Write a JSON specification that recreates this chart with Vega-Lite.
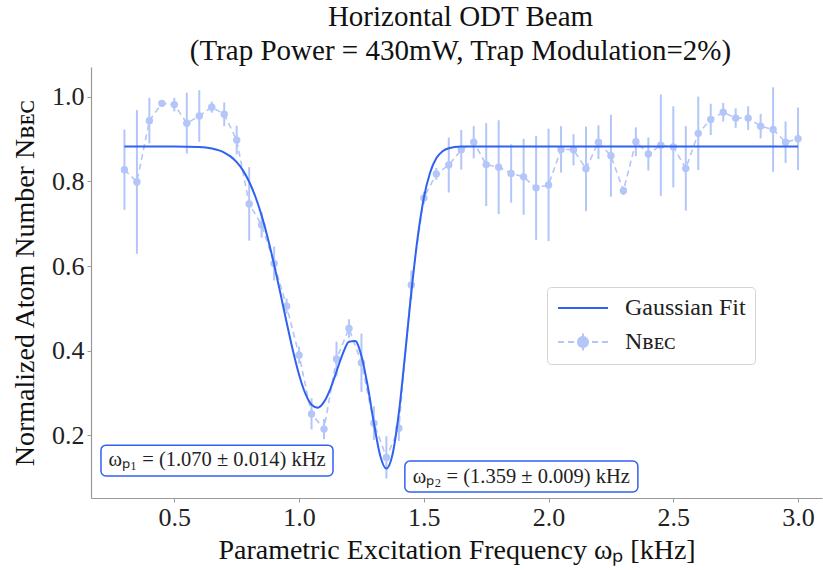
{
  "$schema": "https://vega.github.io/schema/vega-lite/v6.json",
  "width": 731,
  "height": 431,
  "autosize": "none",
  "padding": {"left": 91, "top": 67, "right": 1, "bottom": 72},
  "background": "white",
  "title": {
    "text": ["Horizontal ODT Beam", "(Trap Power = 430mW, Trap Modulation=2%)"],
    "font": "Liberation Serif",
    "fontSize": 29,
    "fontWeight": "normal",
    "color": "#111",
    "lineHeight": 34,
    "offset": 1,
    "dx": 4
  },
  "config": {
    "view": {"stroke": null},
    "axis": {
      "grid": false,
      "domainColor": "#999",
      "domainWidth": 1.2,
      "tickColor": "#999",
      "tickSize": 4,
      "tickWidth": 1,
      "labelFont": "Liberation Serif",
      "labelFontSize": 26,
      "labelColor": "#222",
      "titleFont": "Liberation Serif",
      "titleFontSize": 28,
      "titleFontWeight": "normal",
      "titleColor": "#111"
    },
    "axisX": {"labelPadding": 2, "titlePadding": 6},
    "axisY": {"labelPadding": 3, "titlePadding": 12}
  },
  "datasets": {
    "points": [
      {"x": 0.30, "y": 0.828, "err": 0.095},
      {"x": 0.35, "y": 0.799, "err": 0.170},
      {"x": 0.40, "y": 0.944, "err": 0.054},
      {"x": 0.45, "y": 0.985, "err": 0.008},
      {"x": 0.50, "y": 0.982, "err": 0.016},
      {"x": 0.55, "y": 0.938, "err": 0.072},
      {"x": 0.60, "y": 0.955, "err": 0.061},
      {"x": 0.65, "y": 0.976, "err": 0.013},
      {"x": 0.70, "y": 0.959, "err": 0.028},
      {"x": 0.75, "y": 0.898, "err": 0.034},
      {"x": 0.80, "y": 0.747, "err": 0.087},
      {"x": 0.85, "y": 0.697, "err": 0.030},
      {"x": 0.90, "y": 0.606, "err": 0.040},
      {"x": 0.95, "y": 0.505, "err": 0.018},
      {"x": 1.00, "y": 0.389, "err": 0.020},
      {"x": 1.05, "y": 0.250, "err": 0.037},
      {"x": 1.10, "y": 0.214, "err": 0.024},
      {"x": 1.15, "y": 0.380, "err": 0.041},
      {"x": 1.20, "y": 0.452, "err": 0.022},
      {"x": 1.25, "y": 0.371, "err": 0.069},
      {"x": 1.30, "y": 0.228, "err": 0.040},
      {"x": 1.35, "y": 0.147, "err": 0.050},
      {"x": 1.40, "y": 0.216, "err": 0.030},
      {"x": 1.45, "y": 0.555, "err": 0.034},
      {"x": 1.50, "y": 0.761, "err": 0.015},
      {"x": 1.55, "y": 0.818, "err": 0.014},
      {"x": 1.60, "y": 0.839, "err": 0.065},
      {"x": 1.65, "y": 0.875, "err": 0.047},
      {"x": 1.70, "y": 0.893, "err": 0.038},
      {"x": 1.75, "y": 0.840, "err": 0.098},
      {"x": 1.80, "y": 0.834, "err": 0.111},
      {"x": 1.85, "y": 0.819, "err": 0.069},
      {"x": 1.90, "y": 0.811, "err": 0.090},
      {"x": 1.95, "y": 0.785, "err": 0.123},
      {"x": 2.00, "y": 0.792, "err": 0.133},
      {"x": 2.05, "y": 0.876, "err": 0.055},
      {"x": 2.10, "y": 0.875, "err": 0.037},
      {"x": 2.15, "y": 0.830, "err": 0.100},
      {"x": 2.20, "y": 0.893, "err": 0.040},
      {"x": 2.25, "y": 0.861, "err": 0.097},
      {"x": 2.30, "y": 0.778, "err": 0.010},
      {"x": 2.35, "y": 0.894, "err": 0.034},
      {"x": 2.40, "y": 0.865, "err": 0.039},
      {"x": 2.45, "y": 0.886, "err": 0.120},
      {"x": 2.50, "y": 0.882, "err": 0.096},
      {"x": 2.55, "y": 0.831, "err": 0.100},
      {"x": 2.60, "y": 0.914, "err": 0.087},
      {"x": 2.65, "y": 0.947, "err": 0.037},
      {"x": 2.70, "y": 0.964, "err": 0.022},
      {"x": 2.75, "y": 0.950, "err": 0.023},
      {"x": 2.80, "y": 0.950, "err": 0.028},
      {"x": 2.85, "y": 0.931, "err": 0.029},
      {"x": 2.90, "y": 0.923, "err": 0.100},
      {"x": 2.95, "y": 0.893, "err": 0.049},
      {"x": 3.00, "y": 0.901, "err": 0.074}
    ],
    "fit": [
      {"x": 0.30, "y": 0.883},
      {"x": 0.50, "y": 0.883},
      {"x": 0.60, "y": 0.8816},
      {"x": 0.65, "y": 0.878},
      {"x": 0.70, "y": 0.8686},
      {"x": 0.725, "y": 0.8594},
      {"x": 0.75, "y": 0.8458},
      {"x": 0.775, "y": 0.8263},
      {"x": 0.80, "y": 0.7994},
      {"x": 0.825, "y": 0.7639},
      {"x": 0.85, "y": 0.7192},
      {"x": 0.875, "y": 0.6653},
      {"x": 0.90, "y": 0.6033},
      {"x": 0.925, "y": 0.5359},
      {"x": 0.95, "y": 0.4667},
      {"x": 0.975, "y": 0.4005},
      {"x": 1.00, "y": 0.3427},
      {"x": 1.025, "y": 0.2984},
      {"x": 1.05, "y": 0.2717},
      {"x": 1.075, "y": 0.2647},
      {"x": 1.10, "y": 0.2783},
      {"x": 1.125, "y": 0.3088},
      {"x": 1.15, "y": 0.3502},
      {"x": 1.175, "y": 0.392},
      {"x": 1.20, "y": 0.4208},
      {"x": 1.225, "y": 0.4223},
      {"x": 1.25, "y": 0.387},
      {"x": 1.275, "y": 0.3165},
      {"x": 1.30, "y": 0.2278},
      {"x": 1.325, "y": 0.1517},
      {"x": 1.35, "y": 0.1206},
      {"x": 1.375, "y": 0.155},
      {"x": 1.40, "y": 0.2529},
      {"x": 1.425, "y": 0.3913},
      {"x": 1.45, "y": 0.538},
      {"x": 1.475, "y": 0.6658},
      {"x": 1.50, "y": 0.761},
      {"x": 1.525, "y": 0.8208},
      {"x": 1.55, "y": 0.8548},
      {"x": 1.575, "y": 0.8714},
      {"x": 1.60, "y": 0.8787},
      {"x": 1.65, "y": 0.8826},
      {"x": 1.70, "y": 0.883},
      {"x": 3.00, "y": 0.883}
    ]
  },
  "layer": [
    {
      "encoding": {
        "x": {"field": "x", "type": "quantitative",
              "scale": {"domain": [0.166, 3.096], "nice": false, "zero": false},
              "axis": {"values": [0.5, 1.0, 1.5, 2.0, 2.5, 3.0], "format": ".1f"},
              "title": "Parametric Excitation Frequency ωₚ [kHz]"},
        "y": {"field": "y", "type": "quantitative",
              "scale": {"domain": [0.0509, 1.071], "nice": false, "zero": false},
              "axis": {"values": [0.2, 0.4, 0.6, 0.8, 1.0], "format": ".1f"},
              "title": "Normalized Atom Number Nʙᴇᴄ"}
      },
      "layer": [
        {
          "data": {"name": "points"},
          "mark": {"type": "errorbar", "ticks": false, "color": "#b4c6f9", "rule": {"strokeWidth": 2}},
          "encoding": {
            "yError": {"field": "err"}
          }
        },
        {
          "data": {"name": "points"},
          "mark": {"type": "line", "strokeWidth": 1.6, "strokeDash": [6, 4], "clip": true},
          "encoding": {
            "color": {
              "datum": "Nʙᴇᴄ",
              "scale": {"domain": ["Gaussian Fit", "Nʙᴇᴄ"], "range": ["#3062f0", "#b4c6f9"]},
              "legend": {
                "title": null,
                "orient": "none",
                "legendX": 456,
                "legendY": 220,
                "padding": 9,
                "strokeColor": "#d4d4d4",
                "fillColor": "white",
                "cornerRadius": 4,
                "labelFont": "Liberation Serif",
                "labelFontSize": 24,
                "labelColor": "#222",
                "labelOffset": 45,
                "rowPadding": 9,
                "symbolSize": 400,
                "symbolStrokeWidth": 2,
                "symbolDash": [1, 0],
                "encode": {
                  "symbols": {
                    "update": {
                      "shape": {"signal": "datum.value === 'Gaussian Fit' ? 'M-1,0H4' : 'M-1,0H-0.4M0,0H0.6M1,0H2M2.4,0H3M3.4,0H4M1.5,-0.85V0.85M2,0A0.5,0.5 0 1 1 1,0A0.5,0.5 0 1 1 2,0Z'"},
                      "fill": {"value": "#b4c6f9"},
                      "strokeDash": {"value": [1, 0]}
                    }
                  }
                }
              }
            }
          }
        },
        {
          "data": {"name": "points"},
          "mark": {"type": "circle", "size": 55, "color": "#b4c6f9", "opacity": 1}
        },
        {
          "data": {"name": "fit"},
          "mark": {"type": "line", "strokeWidth": 2, "interpolate": "monotone"},
          "encoding": {
            "color": {"datum": "Gaussian Fit"}
          }
        }
      ]
    },
    {
      "data": {"values": [{}]},
      "mark": {"type": "rect", "fill": "white", "stroke": "#3062f0", "strokeWidth": 1.5, "cornerRadius": 5},
      "encoding": {
        "x": {"datum": 0.206, "type": "quantitative",
              "scale": {"domain": [0.166, 3.096], "nice": false, "zero": false},
              "axis": {"values": [0.5, 1.0, 1.5, 2.0, 2.5, 3.0], "format": ".1f"},
              "title": "Parametric Excitation Frequency ωₚ [kHz]"},
        "x2": {"datum": 1.136},
        "y": {"datum": 0.103, "type": "quantitative",
              "scale": {"domain": [0.0509, 1.071], "nice": false, "zero": false},
              "axis": {"values": [0.2, 0.4, 0.6, 0.8, 1.0], "format": ".1f"},
              "title": "Normalized Atom Number Nʙᴇᴄ"},
        "y2": {"datum": 0.176}
      }
    },
    {
      "data": {"values": [{}]},
      "mark": {"type": "text", "font": "Liberation Serif", "fontSize": 20.5, "color": "#222", "align": "center", "baseline": "middle"},
      "encoding": {
        "x": {"datum": 0.671, "type": "quantitative",
              "scale": {"domain": [0.166, 3.096], "nice": false, "zero": false},
              "axis": {"values": [0.5, 1.0, 1.5, 2.0, 2.5, 3.0], "format": ".1f"},
              "title": "Parametric Excitation Frequency ωₚ [kHz]"},
        "y": {"datum": 0.141, "type": "quantitative",
              "scale": {"domain": [0.0509, 1.071], "nice": false, "zero": false},
              "axis": {"values": [0.2, 0.4, 0.6, 0.8, 1.0], "format": ".1f"},
              "title": "Normalized Atom Number Nʙᴇᴄ"},
        "text": {"value": "ωₚ₁ = (1.070 ± 0.014) kHz"}
      }
    },
    {
      "data": {"values": [{}]},
      "mark": {"type": "rect", "fill": "white", "stroke": "#3062f0", "strokeWidth": 1.5, "cornerRadius": 5},
      "encoding": {
        "x": {"datum": 1.424, "type": "quantitative",
              "scale": {"domain": [0.166, 3.096], "nice": false, "zero": false},
              "axis": {"values": [0.5, 1.0, 1.5, 2.0, 2.5, 3.0], "format": ".1f"},
              "title": "Parametric Excitation Frequency ωₚ [kHz]"},
        "x2": {"datum": 2.358},
        "y": {"datum": 0.065, "type": "quantitative",
              "scale": {"domain": [0.0509, 1.071], "nice": false, "zero": false},
              "axis": {"values": [0.2, 0.4, 0.6, 0.8, 1.0], "format": ".1f"},
              "title": "Normalized Atom Number Nʙᴇᴄ"},
        "y2": {"datum": 0.1385}
      }
    },
    {
      "data": {"values": [{}]},
      "mark": {"type": "text", "font": "Liberation Serif", "fontSize": 20.5, "color": "#222", "align": "center", "baseline": "middle"},
      "encoding": {
        "x": {"datum": 1.891, "type": "quantitative",
              "scale": {"domain": [0.166, 3.096], "nice": false, "zero": false},
              "axis": {"values": [0.5, 1.0, 1.5, 2.0, 2.5, 3.0], "format": ".1f"},
              "title": "Parametric Excitation Frequency ωₚ [kHz]"},
        "y": {"datum": 0.101, "type": "quantitative",
              "scale": {"domain": [0.0509, 1.071], "nice": false, "zero": false},
              "axis": {"values": [0.2, 0.4, 0.6, 0.8, 1.0], "format": ".1f"},
              "title": "Normalized Atom Number Nʙᴇᴄ"},
        "text": {"value": "ωₚ₂ = (1.359 ± 0.009) kHz"}
      }
    }
  ]
}
